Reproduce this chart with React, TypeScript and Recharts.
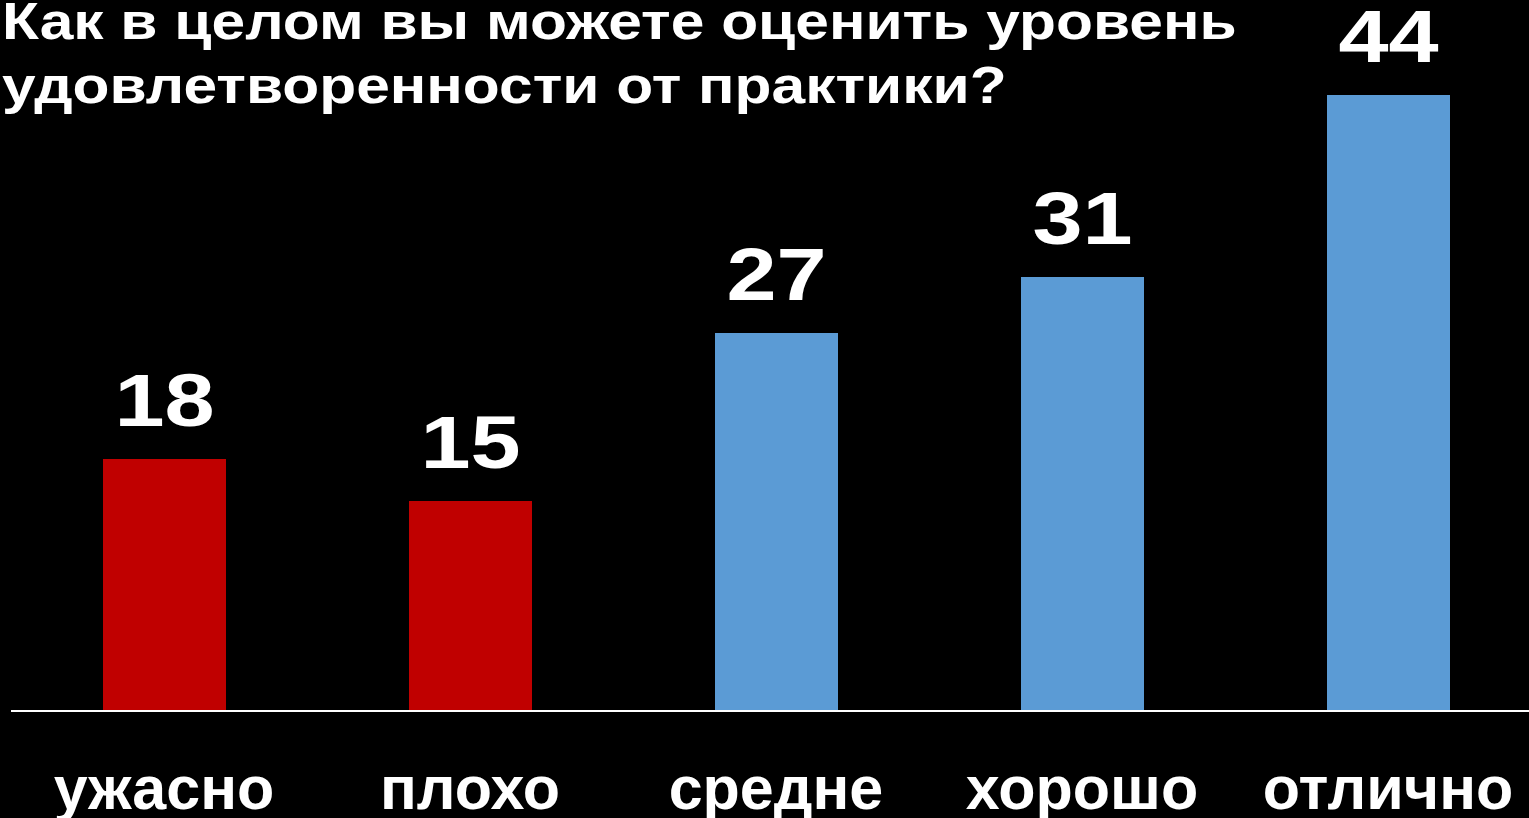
import React from "react";
import { BarChart, Bar, XAxis, YAxis, Cell, LabelList } from "recharts";

const categories = ["ужасно", "плохо", "средне", "хорошо", "отлично"];
const values = [18, 15, 27, 31, 44];
const titleLines = [
  "Как в целом вы можете оценить уровень",
  "удовлетворенности от практики?",
];

const RED = "#C00000";
const BLUE = "#5B9BD5";
const barColors = [RED, RED, BLUE, BLUE, BLUE];

const FONT = "'Liberation Sans', Arial, sans-serif";

const data = categories.map((name, i) => ({ name, value: values[i] }));

function CategoryTick(props: any) {
  const { x, y, payload } = props;
  return (
    <text
      x={x}
      y={y}
      dy={98}
      textAnchor="middle"
      fill="#fff"
      fontFamily={FONT}
      fontWeight="bold"
      fontSize={61}
    >
      {payload.value}
    </text>
  );
}

function ValueLabel(props: any) {
  const { x, y, width, value } = props;
  const cx = x + width / 2;
  const by = y - 33;
  return (
    <text
      x={0}
      y={0}
      transform={`translate(${cx},${by}) scale(1.2,1)`}
      textAnchor="middle"
      fill="#fff"
      fontFamily={FONT}
      fontWeight="bold"
      fontSize={75}
    >
      {value}
    </text>
  );
}

export default function App() {
  return (
    <div
      style={{
        position: "absolute",
        left: 0,
        top: 0,
        width: 1529,
        height: 818,
        background: "#000",
        overflow: "hidden",
      }}
    >
      <BarChart
        width={1541}
        height={818}
        data={data}
        margin={{ top: 11, right: 0, left: 11, bottom: 77 }}
      >
        <XAxis
          dataKey="name"
          axisLine={{ stroke: "#fff", strokeWidth: 2 }}
          tickLine={false}
          tickSize={0}
          tickMargin={0}
          tick={<CategoryTick />}
          interval={0}
        />
        <YAxis hide domain={[0, 50]} />
        <Bar dataKey="value" barSize={123} isAnimationActive={false}>
          {data.map((d, i) => (
            <Cell key={d.name} fill={barColors[i]} />
          ))}
          <LabelList dataKey="value" content={<ValueLabel />} />
        </Bar>
      </BarChart>
      <div
        style={{
          position: "absolute",
          left: 2,
          top: -11,
          color: "#fff",
          fontFamily: FONT,
          fontWeight: "bold",
          fontSize: 52,
          lineHeight: "64px",
          whiteSpace: "nowrap",
          transform: "scaleX(1.163)",
          transformOrigin: "0 0",
        }}
      >
        {titleLines.map((l) => (
          <div key={l}>{l}</div>
        ))}
      </div>
    </div>
  );
}
